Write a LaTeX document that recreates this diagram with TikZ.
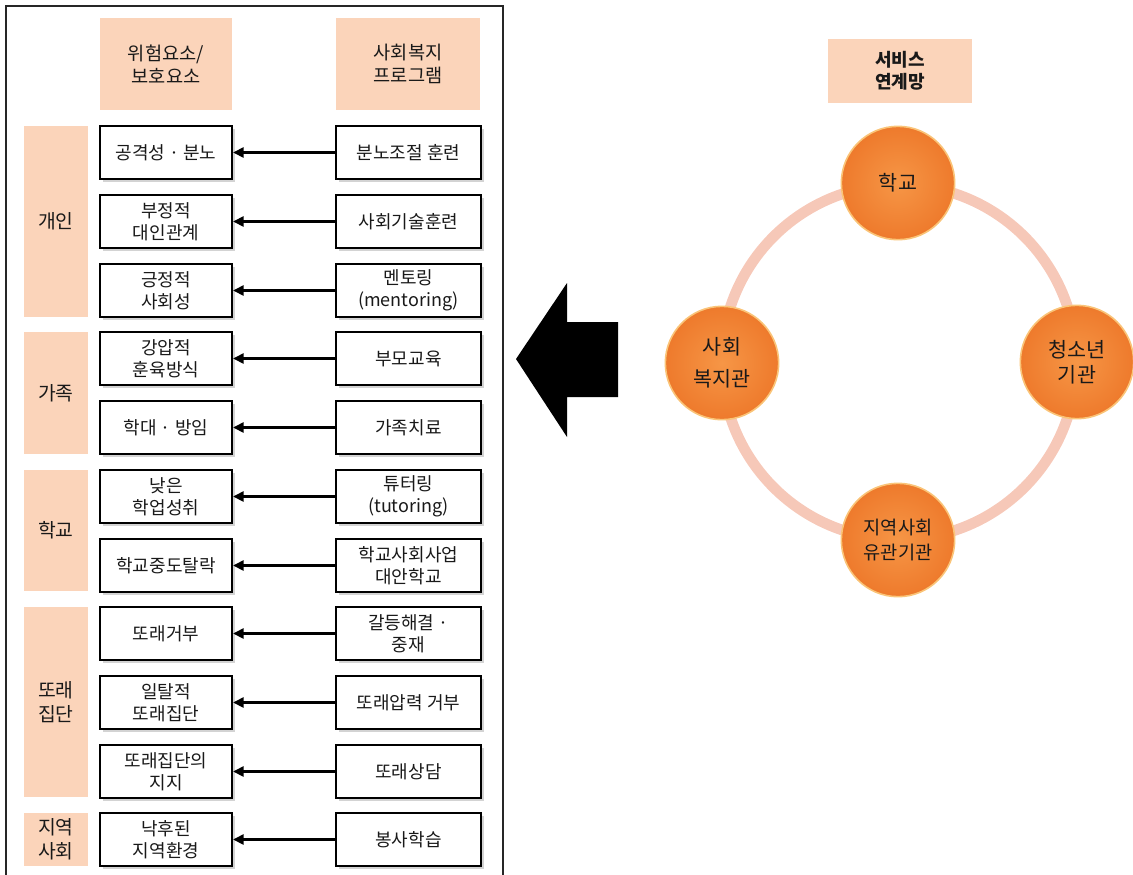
\documentclass[tikz,border=0pt]{standalone}
\usepackage{fontspec}
\setmainfont{Noto Sans CJK KR}
\usetikzlibrary{arrows.meta,shadows}
\definecolor{peach}{RGB}{251,212,186}
\definecolor{ringc}{RGB}{246,200,184}
\definecolor{orng}{RGB}{238,122,44}
\definecolor{orngl}{RGB}{246,150,70}
\definecolor{rim}{RGB}{250,196,120}
\definecolor{txt}{RGB}{25,25,25}
\begin{document}
\begin{tikzpicture}[x=0.75pt,y=-0.75pt,
  every node/.style={text=txt,align=center,inner sep=0pt},
  bodytext/.style={font=\fontsize{13.5pt}{16.5pt}\selectfont},
  header/.style={font=\fontsize{14pt}{17pt}\selectfont,fill=peach,minimum height=69pt},
  catbox/.style={font=\fontsize{14.5pt}{18pt}\selectfont,fill=peach,minimum width=48pt},
  riskbox/.style={bodytext,draw=black,line width=1.5pt,fill=white,minimum width=99pt,minimum height=39.75pt,
     drop shadow={shadow xshift=2pt,shadow yshift=-2pt,opacity=0.35}},
  progbox/.style={riskbox,minimum width=108.75pt},
  conn/.style={line width=2.2pt,-{Triangle[length=8pt,width=7.5pt]}},
  ball/.style={circle,minimum size=85pt,inner color=orngl,outer color=orng,draw=rim,line width=1.2pt,
     font=\fontsize{15.5pt}{19pt}\selectfont}
]
\useasboundingbox (0,0) rectangle (1133,875);
% outer frame
\draw[line width=1.1pt,black!85] (6,880) -- (6,6) -- (503,6) -- (503,880);
% headers
\node[header,minimum width=99pt] (h1) at (166,64) {위험요소/\\보호요소};
\node[header,minimum width=108pt] (h2) at (408,64) {사회복지\\프로그램};
% categories
\node[catbox,minimum height=143.25pt] (c1) at (56,221.5) {개인};
\node[catbox,minimum height=91.5pt] (c2) at (56,393) {가족};
\node[catbox,minimum height=90.75pt] (c3) at (56,530.5) {학교};
\node[catbox,minimum height=142.5pt] (c4) at (56,702) {또래\\집단};
\node[catbox,minimum height=39.75pt] (c5) at (56,839.5) {지역\\사회};
% risk boxes
\node[riskbox] (r1) at (166,152.5) {공격성 · 분노};
\node[riskbox] (r2) at (166,221.5) {부정적\\대인관계};
\node[riskbox] (r3) at (166,290.5) {긍정적\\사회성};
\node[riskbox] (r4) at (166,358.5) {강압적\\훈육방식};
\node[riskbox] (r5) at (166,427.5) {학대 · 방임};
\node[riskbox] (r6) at (166,496.5) {낮은\\학업성취};
\node[riskbox] (r7) at (166,565.5) {학교중도탈락};
\node[riskbox] (r8) at (166,633.5) {또래거부};
\node[riskbox] (r9) at (166,702.5) {일탈적\\또래집단};
\node[riskbox] (r10) at (166,771.5) {또래집단의\\지지};
\node[riskbox] (r11) at (166,839.5) {낙후된\\지역환경};
% program boxes
\node[progbox] (p1) at (408.5,152.5) {분노조절 훈련};
\node[progbox] (p2) at (408.5,221.5) {사회기술훈련};
\node[progbox] (p3) at (408.5,290.5) {멘토링\\(mentoring)};
\node[progbox] (p4) at (408.5,358.5) {부모교육};
\node[progbox] (p5) at (408.5,427.5) {가족치료};
\node[progbox] (p6) at (408.5,496.5) {튜터링\\(tutoring)};
\node[progbox] (p7) at (408.5,565.5) {학교사회사업\\대안학교};
\node[progbox] (p8) at (408.5,633.5) {갈등해결 ·\\중재};
\node[progbox] (p9) at (408.5,702.5) {또래압력 거부};
\node[progbox] (p10) at (408.5,771.5) {또래상담};
\node[progbox] (p11) at (408.5,839.5) {봉사학습};
\foreach \i in {1,...,11} {\draw[conn] (p\i.west) -- (r\i.east);}
% big arrow
\fill[black] (516,359) -- (567,283) -- (567,322) -- (618,322) -- (618,397) -- (567,397) -- (567,437) -- cycle;
% right side
\node[header,minimum width=108pt,minimum height=48pt,font=\fontsize{13.5pt}{16.5pt}\selectfont\bfseries] (h3) at (900,71) {서비스\\연계망};
\coordinate (rc) at (899,362);
\draw[ringc,line width=8pt] (rc) circle [radius=133pt];
\node[ball] (b1) at (898,183) {학교};
\node[ball] (b2) at (722,363) {사회\\[5pt]복지관};
\node[ball] (b3) at (1077,362) {청소년\\기관};
\node[ball,font=\fontsize{14pt}{19pt}\selectfont] (b4) at (898,540) {지역사회\\유관기관};
\end{tikzpicture}
\end{document}
